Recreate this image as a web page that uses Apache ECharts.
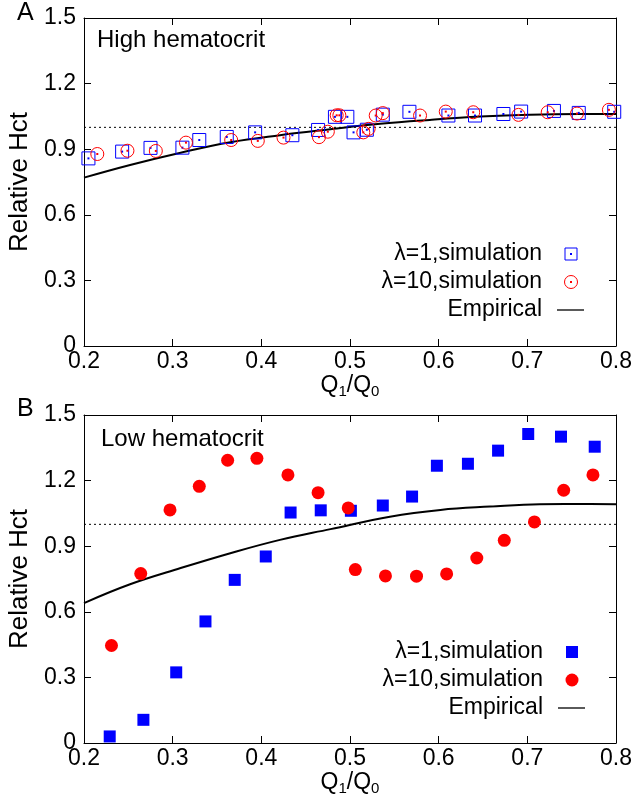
<!DOCTYPE html>
<html><head><meta charset="utf-8">
<script src="https://cdn.jsdelivr.net/npm/echarts@6/dist/echarts.min.js"></script>
<style>html,body{margin:0;padding:0;background:#fff}#c{width:636px;height:805px}</style>
</head><body><div id="c"></div>
<script>
// ---- data ----
const xTickLabels = ['0.2','0.3','0.4','0.5','0.6','0.7','0.8'];
const yTickLabels = ['0','0.3','0.6','0.9','1.2','1.5'];

// Panel A (high hematocrit)
const aSqX = [0.205,0.243,0.275,0.311,0.330,0.361,0.393,0.435,0.464,0.483,0.497,0.504,0.519,0.537,0.567,0.611,0.641,0.673,0.693,0.730,0.758,0.798];
const aSqY = [0.858,0.889,0.906,0.907,0.942,0.956,0.977,0.964,0.988,1.048,1.048,0.977,0.989,1.058,1.071,1.054,1.054,1.061,1.072,1.075,1.066,1.071];
const aCiX = [0.215,0.249,0.281,0.315,0.366,0.396,0.425,0.465,0.475,0.485,0.488,0.515,0.521,0.529,0.537,0.579,0.608,0.639,0.690,0.723,0.756,0.792];
const aCiY = [0.878,0.893,0.892,0.930,0.942,0.938,0.953,0.955,0.980,1.055,1.055,0.977,0.993,1.054,1.065,1.054,1.072,1.069,1.057,1.069,1.063,1.080];
const aEmpX = [0.2,0.252,0.309,0.365,0.421,0.478,0.534,0.590,0.647,0.703,0.759,0.8];
const aEmpY = [0.770,0.828,0.884,0.932,0.964,0.991,1.016,1.034,1.049,1.058,1.061,1.061];

// Panel B (low hematocrit)
const bSqX = [0.229,0.267,0.304,0.337,0.370,0.405,0.433,0.467,0.501,0.537,0.570,0.598,0.633,0.667,0.701,0.738,0.776];
const bSqY = [0.030,0.106,0.323,0.556,0.746,0.853,1.054,1.064,1.062,1.086,1.127,1.268,1.277,1.337,1.413,1.401,1.355];
const bCiX = [0.231,0.264,0.297,0.330,0.362,0.395,0.430,0.464,0.498,0.506,0.540,0.575,0.609,0.643,0.674,0.708,0.741,0.774];
const bCiY = [0.446,0.775,1.066,1.174,1.293,1.302,1.226,1.145,1.075,0.793,0.764,0.763,0.773,0.846,0.927,1.011,1.156,1.226];
const bEmpX = [0.2,0.252,0.309,0.365,0.421,0.478,0.545,0.602,0.658,0.714,0.771,0.8];
const bEmpY = [0.640,0.726,0.800,0.868,0.929,0.978,1.035,1.066,1.081,1.092,1.093,1.092];

const refX = [0.2, 0.8];
const refY = [1.0, 1.0];

const seriesNames = ['λ=1,simulation','λ=10,simulation','Empirical'];
const panelTitles = ['High hematocrit','Low hematocrit'];
const panelLetters = ['A','B'];

// ---- chart ----
const FONT = 'Liberation Sans';
const zip = (xs, ys) => xs.map((x, i) => [x, ys[i]]);
const BLUE = '#0000ff', RED = '#ff0000';

const chart = echarts.init(document.getElementById('c'), null, {renderer: 'canvas'});

const grids = [
  {left: 84, right: 20, top: 18, height: 328, containLabel: false, outerBoundsMode: 'none'},
  {left: 84, right: 20, top: 415, height: 328, containLabel: false, outerBoundsMode: 'none'}
];

function xAx(gi, pos) {
  const main = pos === 'bottom';
  return {
    type: 'value', gridIndex: gi, position: pos, min: 0.2, max: 0.8, interval: 0.1,
    axisLine: {show: true, onZero: false, lineStyle: {color: '#000', width: 1}},
    axisTick: {show: true, inside: true, length: 7, lineStyle: {color: '#000'}},
    splitLine: {show: false},
    axisLabel: {show: main, color: '#000', fontFamily: FONT, fontSize: 23, margin: 4,
      formatter: v => xTickLabels[Math.round((v - 0.2) * 10)]},
    name: main ? '{n|Q}{s|1}{n|/Q}{s|0}' : '',
    nameLocation: 'middle', nameGap: 24,
    nameTextStyle: {rich: {
      n: {fontFamily: FONT, fontSize: 23, color: '#000'},
      s: {fontFamily: FONT, fontSize: 15, color: '#000', padding: [12, 0, 0, 0]}
    }}
  };
}
function yAx(gi, pos) {
  const main = pos === 'left';
  return {
    type: 'value', gridIndex: gi, position: pos, min: 0, max: 1.5, interval: 0.3,
    axisLine: {show: true, onZero: false, lineStyle: {color: '#000', width: 1}},
    axisTick: {show: true, inside: true, length: 7, lineStyle: {color: '#000'}},
    splitLine: {show: false},
    axisLabel: {show: main, color: '#000', fontFamily: FONT, fontSize: 23, margin: 8,
      formatter: v => yTickLabels[Math.round(v / 0.3)]},
    name: main ? 'Relative Hct' : '',
    nameLocation: 'middle', nameGap: 49,
    nameTextStyle: {fontFamily: FONT, fontSize: 26, color: '#000'}
  };
}

function hollowSeries(name, xi, yi, data, symbol, color) {
  return [{
    name, type: 'scatter', xAxisIndex: xi, yAxisIndex: yi, data,
    symbol, symbolSize: 13,
    itemStyle: {color: 'rgba(0,0,0,0)', borderColor: color, borderWidth: 1, opacity: 1},
    emphasis: {disabled: true}, silent: true, z: 3
  }, {
    type: 'scatter', xAxisIndex: xi, yAxisIndex: yi, data,
    symbol: 'rect', symbolSize: 2, itemStyle: {color, opacity: 1},
    emphasis: {disabled: true}, silent: true, z: 3
  }];
}
function filledSeries(name, xi, yi, data, symbol, color, size) {
  return {
    name, type: 'scatter', xAxisIndex: xi, yAxisIndex: yi, data,
    symbol, symbolSize: size, itemStyle: {color, opacity: 1},
    emphasis: {disabled: true}, silent: true, z: 3
  };
}
function curveSeries(xi, yi, data) {
  return {
    type: 'line', xAxisIndex: xi, yAxisIndex: yi, data, smooth: 0.4,
    showSymbol: false, symbol: 'none', lineStyle: {color: '#000', width: 2},
    silent: true, z: 2
  };
}
function refSeries(xi, yi) {
  return {
    type: 'line', xAxisIndex: xi, yAxisIndex: yi, data: zip(refX, refY),
    showSymbol: false, symbol: 'none', lineStyle: {color: '#000', width: 1, type: [2, 3]},
    silent: true, z: 1
  };
}

const series = [
  refSeries(0, 0),
  ...hollowSeries(seriesNames[0], 0, 0, zip(aSqX, aSqY), 'rect', BLUE),
  ...hollowSeries(seriesNames[1], 0, 0, zip(aCiX, aCiY), 'circle', RED),
  curveSeries(0, 0, zip(aEmpX, aEmpY)),
  refSeries(2, 2),
  filledSeries(seriesNames[0], 2, 2, zip(bSqX, bSqY), 'rect', BLUE, 12),
  filledSeries(seriesNames[1], 2, 2, zip(bCiX, bCiY), 'circle', RED, 13),
  curveSeries(2, 2, zip(bEmpX, bEmpY))
];

function legendGraphics(rowYs, textRight, symX, lineX0, lineX1, filled) {
  const txt = (t, y) => ({type: 'text', x: textRight, y,
    style: {text: t, fontFamily: FONT, fontSize: 23, fill: '#000', textAlign: 'right', textVerticalAlign: 'middle'}});
  const g = [txt(seriesNames[0], rowYs[0]), txt(seriesNames[1], rowYs[1]), txt(seriesNames[2], rowYs[2])];
  if (filled) {
    g.push({type: 'rect', shape: {x: symX - 6, y: rowYs[0] - 6, width: 12, height: 12}, style: {fill: BLUE}});
    g.push({type: 'circle', shape: {cx: symX, cy: rowYs[1], r: 6.5}, style: {fill: RED}});
  } else {
    g.push({type: 'rect', shape: {x: symX - 6, y: rowYs[0] - 6, width: 12, height: 12}, style: {fill: 'none', stroke: BLUE, lineWidth: 1}});
    g.push({type: 'rect', shape: {x: symX - 1, y: rowYs[0] - 1, width: 2, height: 2}, style: {fill: BLUE}});
    g.push({type: 'circle', shape: {cx: symX, cy: rowYs[1], r: 6.5}, style: {fill: 'none', stroke: RED, lineWidth: 1}});
    g.push({type: 'rect', shape: {x: symX - 1, y: rowYs[1] - 1, width: 2, height: 2}, style: {fill: RED}});
  }
  g.push({type: 'line', shape: {x1: lineX0, y1: rowYs[2], x2: lineX1, y2: rowYs[2]}, style: {stroke: '#000', lineWidth: 1.3}});
  return g;
}

const graphic = [
  {type: 'text', x: 17, y: 13, style: {text: panelLetters[0], fontFamily: FONT, fontSize: 25, fill: '#000', textVerticalAlign: 'middle'}},
  {type: 'text', x: 17, y: 409, style: {text: panelLetters[1], fontFamily: FONT, fontSize: 25, fill: '#000', textVerticalAlign: 'middle'}},
  {type: 'text', x: 97, y: 40, style: {text: panelTitles[0], fontFamily: FONT, fontSize: 24, fill: '#000', textVerticalAlign: 'middle'}},
  {type: 'text', x: 101, y: 439, style: {text: panelTitles[1], fontFamily: FONT, fontSize: 24, fill: '#000', textVerticalAlign: 'middle'}},
  ...legendGraphics([254, 282, 310], 542, 571, 557, 584, false),
  ...legendGraphics([652, 680, 708], 543, 572, 558, 585, true)
];

chart.setOption({
  animation: false,
  backgroundColor: '#fff',
  grid: grids,
  xAxis: [xAx(0, 'bottom'), xAx(0, 'top'), xAx(1, 'bottom'), xAx(1, 'top')],
  yAxis: [yAx(0, 'left'), yAx(0, 'right'), yAx(1, 'left'), yAx(1, 'right')],
  series,
  graphic
});
</script>
</body></html>
